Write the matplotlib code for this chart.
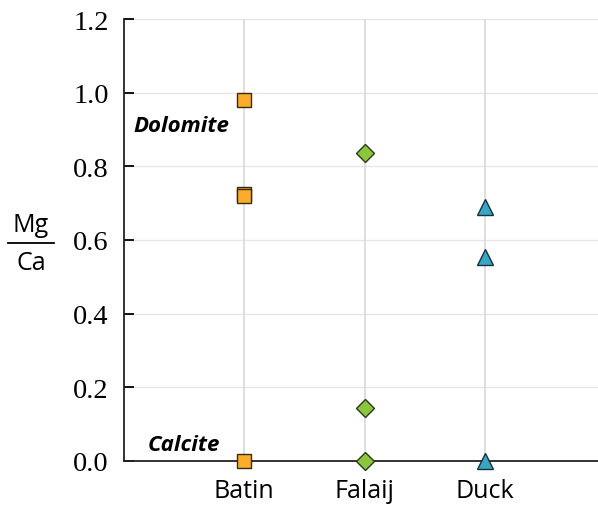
import matplotlib
matplotlib.use("Agg")
from matplotlib import pyplot as plt
from matplotlib.lines import Line2D

# data
sites = ["Batin", "Falaij", "Duck"]
batin = [0.98, 0.725, 0.72, 0.0]
falaij = [0.835, 0.145, 0.0]
duck = [0.69, 0.555, 0.0]
yticks = [0.0, 0.2, 0.4, 0.6, 0.8, 1.0, 1.2]

sans = "Open Sans"
serif = "Liberation Serif"

fig = plt.figure(figsize=(5.98, 5.06), dpi=100)
ax = fig.add_axes([124 / 598, 1 - 462 / 506, 1 - 124 / 598, (462 - 20) / 506])

ax.set_xlim(0, 3.94)
ax.set_ylim(0, 1.2)

# grid
for y in yticks[1:]:
    ax.axhline(y, color="#e6e6e6", lw=1, zorder=0)
for i in range(len(sites)):
    ax.axvline(i + 1, color="#d9d9d9", lw=1.2, zorder=0)

ax.plot([1] * len(batin), batin, ls="none", marker="s", ms=9.5,
        mfc="#f9ad2a", mec="#3a2a10", mew=1, clip_on=False, zorder=3)
ax.plot([2] * len(falaij), falaij, ls="none", marker="D", ms=9.5,
        mfc="#8cc63f", mec="#2a3a1a", mew=1, clip_on=False, zorder=3)
ax.plot([3] * len(duck), duck, ls="none", marker="^", ms=11,
        mfc="#3aa6c4", mec="#17323d", mew=1, clip_on=False, zorder=3)

for s in ["top", "right"]:
    ax.spines[s].set_visible(False)
for s in ["left", "bottom"]:
    ax.spines[s].set_linewidth(1.3)
    ax.spines[s].set_color("#222222")

ax.set_yticks(yticks)
ax.set_yticklabels([f"{v:.1f}" for v in yticks], fontfamily=serif, fontsize=20.5)
ax.tick_params(axis="y", direction="in", length=7, width=1.3, pad=11)
ax.set_xticks([1, 2, 3])
ax.set_xticklabels(sites, fontfamily=sans, fontsize=18)
ax.tick_params(axis="x", length=0, pad=12)

ax.text(0.08, 0.91, "Dolomite", fontfamily=sans, fontsize=16, fontweight="bold",
        fontstyle="italic", va="center", ha="left")
ax.text(0.2, 0.045, "Calcite", fontfamily=sans, fontsize=16, fontweight="bold",
        fontstyle="italic", va="center", ha="left")

# fraction label Mg / Ca
fig.text(31 / 598, 1 - 226 / 506, "Mg", fontfamily=sans, fontsize=18, ha="center", va="center")
fig.text(31 / 598, 1 - 263 / 506, "Ca", fontfamily=sans, fontsize=18, ha="center", va="center")
fig.add_artist(Line2D([8 / 598, 54 / 598], [1 - 244 / 506, 1 - 244 / 506], color="black", lw=1.3))

fig.savefig("out.png", dpi=100)
